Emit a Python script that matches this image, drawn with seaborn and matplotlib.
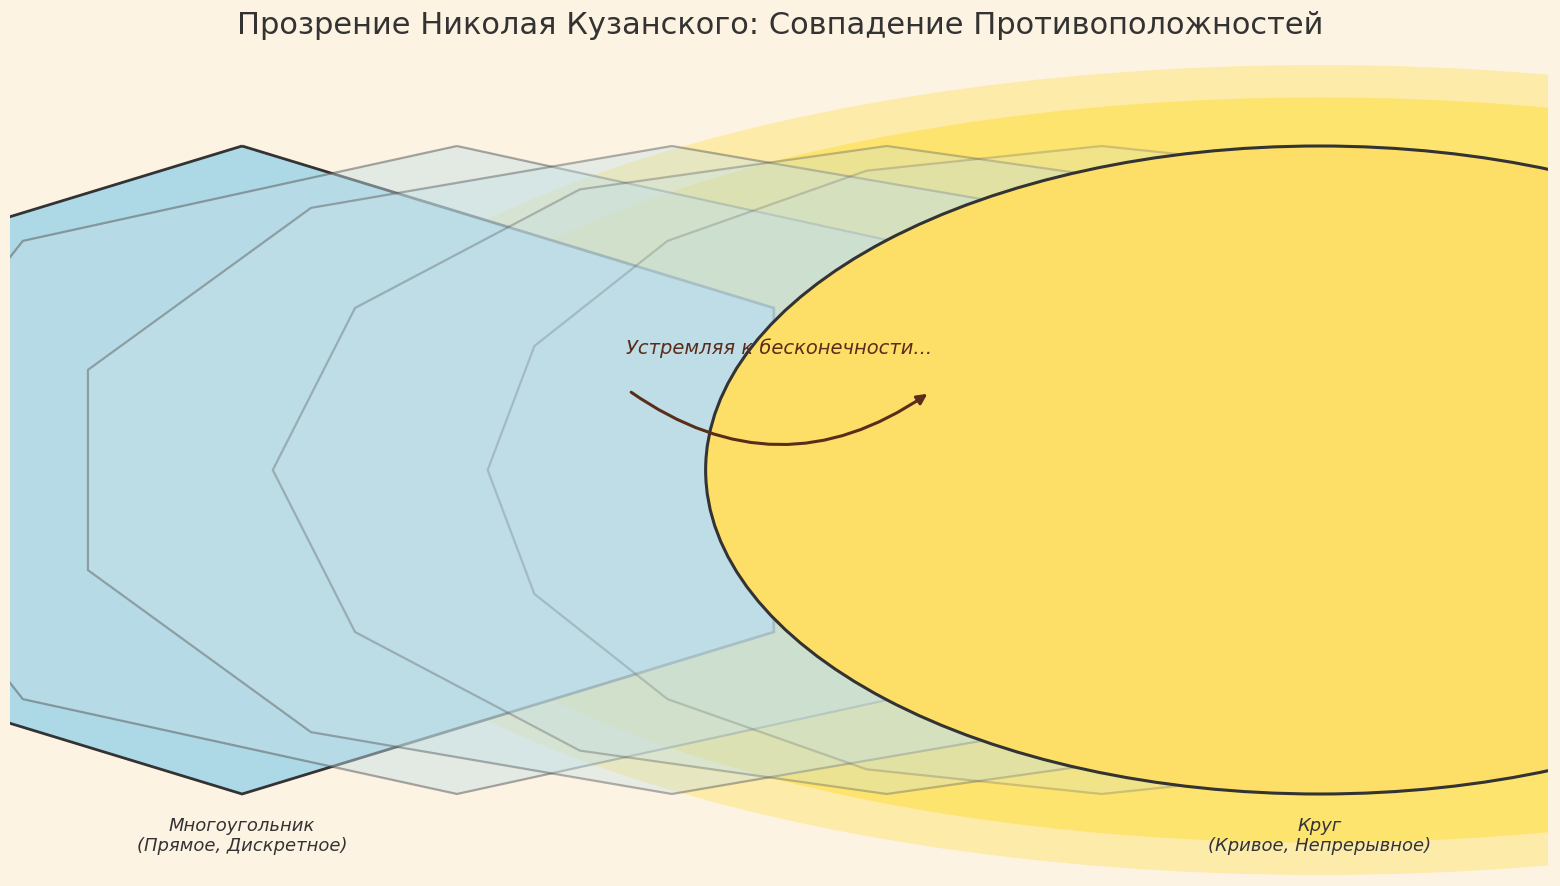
import numpy as np
import matplotlib
matplotlib.use("Agg")
import matplotlib.pyplot as plt
import seaborn as sns
from matplotlib.patches import Polygon, Ellipse, FancyArrowPatch

sns.set_theme(style="white")
plt.rcParams['font.family'] = ['DejaVu Sans']

BG = "#fdf3e3"
poly_sides = [6, 8, 10, 12, 16]
poly_centers = [0.0, 0.35, 0.70, 1.05, 1.40]
poly_alpha_fill = [1.0, 0.45, 0.4, 0.3, 0.22]
poly_alpha_edge = [1.0, 0.5, 0.45, 0.35, 0.25]
circle_center = 1.755
title = "Прозрение Николая Кузанского: Совпадение Противоположностей"
note = "Устремляя к бесконечности..."
left_label = "Многоугольник\n(Прямое, Дискретное)"
right_label = "Круг\n(Кривое, Непрерывное)"

fig = plt.figure(figsize=(15.6, 8.86), dpi=100, facecolor=BG)
ax = fig.add_axes([10/1560, 11/886, 1538/1560, 810/886])
ax.set_facecolor(BG)
ax.set_xlim(-0.378, 2.127)
ax.set_ylim(-1.25, 1.25)
ax.axis("off")

# glow
for r, a in [(1.25, 0.25), (1.15, 0.35)]:
    ax.add_patch(Ellipse((circle_center, 0), 2*r*1.38, 2*r, facecolor="#FFD700",
                         alpha=a, edgecolor="none", zorder=1))

for i, (n, cx, af, ae) in enumerate(zip(poly_sides, poly_centers, poly_alpha_fill, poly_alpha_edge)):
    ang = np.pi/2 + np.arange(n) * 2*np.pi/n
    pts = np.column_stack([cx + np.cos(ang), np.sin(ang)])
    fc = "#ADD8E6" if i == 0 else "#c4e0e6"
    ax.add_patch(Polygon(pts, closed=True, facecolor=fc, alpha=af, edgecolor="none", zorder=2+i))
    ax.add_patch(Polygon(pts, closed=True, facecolor="none",
                         edgecolor="#333333" if i == 0 else "#555555",
                         alpha=ae, lw=2 if i == 0 else 1.6, zorder=2+i))

ax.add_patch(Ellipse((circle_center, 0), 2, 2, facecolor="#FDDE66", edgecolor="#333333",
                     lw=2.2, zorder=10))

ax.text(0.875, 0.375, note, fontsize=14, style="italic", color="#5a2d1a",
        ha="center", va="center", zorder=12)
ax.add_patch(FancyArrowPatch((0.63, 0.245), (1.12, 0.24), connectionstyle="arc3,rad=0.35",
                             arrowstyle="-|>,head_length=6,head_width=3", color="#5a2d1a",
                             lw=2.2, zorder=12))

ax.text(0.0, -1.13, left_label, fontsize=13, style="italic", color="#333333",
        ha="center", va="center", linespacing=1.1)
ax.text(circle_center, -1.13, right_label, fontsize=13, style="italic", color="#333333",
        ha="center", va="center", linespacing=1.1)

fig.suptitle(title, fontsize=22, color="#333333", y=0.988)
fig.savefig("out.png", dpi=100, facecolor=BG)
